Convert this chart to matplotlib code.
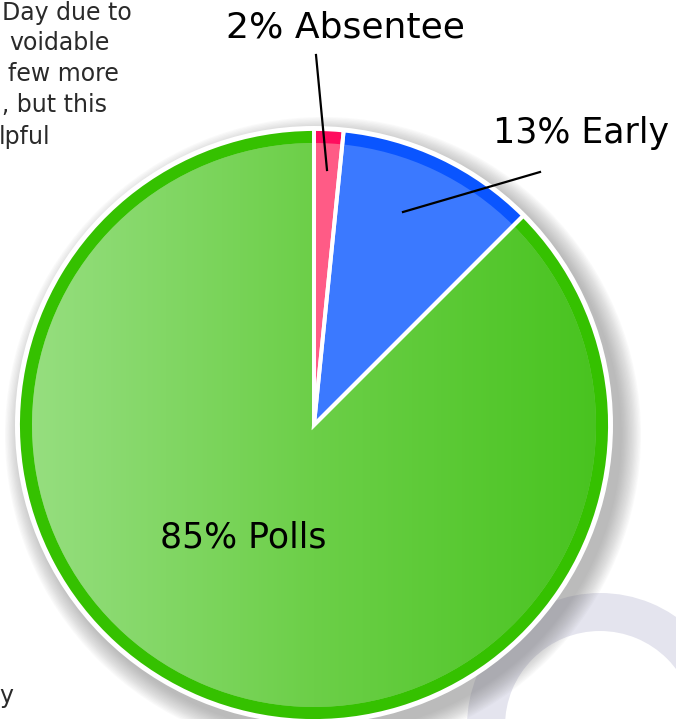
import matplotlib.pyplot as plt
import numpy as np
from matplotlib.patches import Circle, Wedge
from matplotlib.colors import LinearSegmentedColormap

# slice sizes (clockwise from 12 o'clock)
labels = ['2% Absentee', '13% Early', '85% Polls']
shares = [1.6, 10.9, 87.5]
rim_colors = ['#ff0d5e', '#0a55ff', '#35c100']
fill_colors = ['#ff5b86', '#3b79ff', '#6fd04c']

# bits of the neighbouring paragraph that got cut off
side_lines = ['Day due to', 'voidable', 'few more', 'g, but this', 'lpful']

W, H = 676, 719
plt.rcParams['font.family'] = ['DejaVu Sans']

fig = plt.figure(figsize=(W / 100, H / 100), dpi=100)
ax = fig.add_axes([0, 0, 1, 1])

def Y(y):
    return H - y

cx, cy, R = 314, Y(425), 296

# grey ring in the corner
ax.add_patch(Wedge((600, Y(726)), 133, 0, 360, width=38, facecolor='#e4e4ee', edgecolor='none', zorder=1))

# soft drop shadow
for k in range(16):
    ax.add_patch(Circle((cx + 9, cy - 10), R + 22 - k * 1.3, facecolor='#707070',
                        alpha=0.035, edgecolor='none', zorder=2))
ax.add_patch(Circle((cx, cy), R + 3, facecolor='white', edgecolor='none', zorder=3))

# outer rim
ax.pie(shares, colors=rim_colors, startangle=90, counterclock=False,
       center=(cx, cy), radius=R, wedgeprops=dict(edgecolor='none', zorder=4), frame=True)
# inner fill
inner, _ = ax.pie(shares, colors=fill_colors, startangle=90, counterclock=False,
                  center=(cx, cy), radius=R - 14, wedgeprops=dict(edgecolor='none', zorder=5), frame=True)

# horizontal gradient on the big green slice
cmap = LinearSegmentedColormap.from_list('g', ['#98df82', '#6ccf48', '#47c31e'])
grad = np.linspace(0, 1, 256).reshape(1, -1)
im = ax.imshow(grad, cmap=cmap, extent=(cx - R, cx + R, cy - R, cy + R),
               aspect='auto', zorder=6)
im.set_clip_path(inner[2])

# white separators and edge
ax.pie(shares, colors=['none'] * 3, startangle=90, counterclock=False,
       center=(cx, cy), radius=R,
       wedgeprops=dict(edgecolor='white', linewidth=2.8, zorder=7, fill=False), frame=True)

ax.set_xlim(0, W)
ax.set_ylim(0, H)
ax.set_aspect('equal')
ax.axis('off')

# labels and leader lines
ax.text(345, Y(38), labels[0], fontsize=26, ha='center', va='baseline', color='black', zorder=9)
ax.plot([316, 327], [Y(55), Y(170)], color='black', lw=1.6, zorder=9)
ax.text(581, Y(143), labels[1], fontsize=25, ha='center', va='baseline', color='black', zorder=9)
ax.plot([540, 403], [Y(172), Y(212)], color='black', lw=1.6, zorder=9)
ax.text(243, Y(547), labels[2], fontsize=25, ha='center', va='baseline', color='black', zorder=9)

right_edges = [132, 110, 119, 107, 50]
baselines = [20, 50, 81, 112, 144]
for s, xr, yb in zip(side_lines, right_edges, baselines):
    ax.text(xr, Y(yb), s, fontsize=17, ha='right', va='baseline', color='#2a2a2a', zorder=9)
ax.text(13, Y(703), 'y', fontsize=17, ha='right', va='baseline', color='#2a2a2a', zorder=9)

fig.savefig('out.png', dpi=100)
